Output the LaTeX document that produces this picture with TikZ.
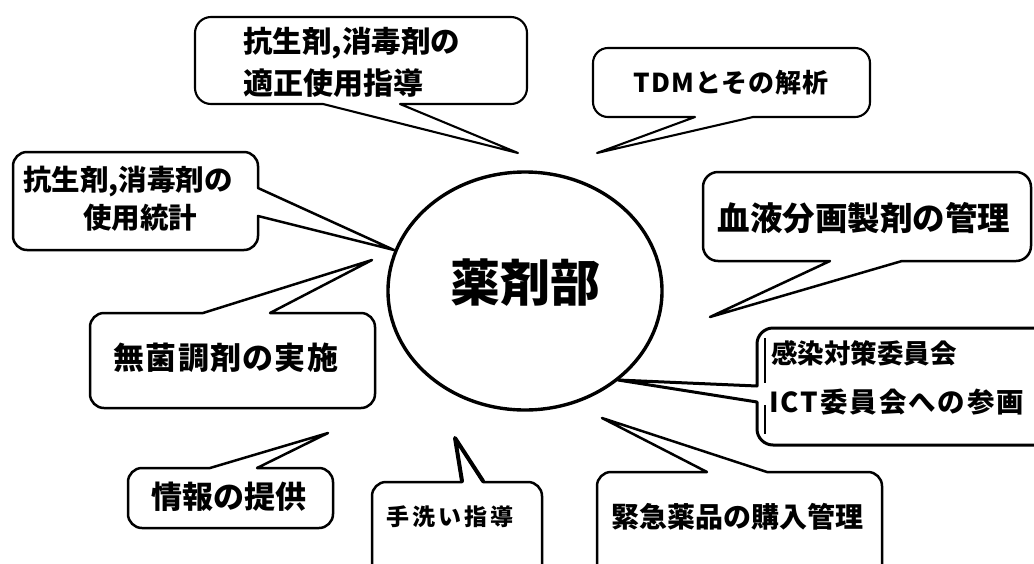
\documentclass[tikz,border=0pt]{standalone}
\usepackage{fontspec}
\usetikzlibrary{shapes.geometric}
\newfontfamily\cjk{Noto Sans CJK JP}
\newcommand\fsz[1]{\fontsize{#1pt}{#1pt}\selectfont}
% L T R B r topfrag rightfrag bottomfrag leftfrag
\newcommand\callout[9]{%
\draw[callout] (#1+#5,#2) #6 -- (#3-#5,#2)
 .. controls (#3-0.45*#5,#2) and (#3,#2+0.45*#5) .. (#3,#2+#5) #7 -- (#3,#4-#5)
 .. controls (#3,#4-0.45*#5) and (#3-0.45*#5,#4) .. (#3-#5,#4) #8 -- (#1+#5,#4)
 .. controls (#1+0.45*#5,#4) and (#1,#4-0.45*#5) .. (#1,#4-#5) #9 -- (#1,#2+#5)
 .. controls (#1,#2+0.45*#5) and (#1+0.45*#5,#2) .. (#1+#5,#2) -- cycle;}
\begin{document}
\begin{tikzpicture}[x=1pt,y=-1pt,
  callout/.style={draw=black, fill=white, line width=2.5pt, line join=round},
  lbl/.style={inner sep=0pt, text=black},
  hubstyle/.style={ellipse, draw=black, line width=3.4pt, minimum width=274pt, minimum height=238pt, inner sep=0pt}]
\fill[white] (0,0) rectangle (1034,563);
\useasboundingbox (0,0) rectangle (1034,563);

% central circle
\node[hubstyle] (hub) at (525,291) {};
\node[lbl, font={\cjk\bfseries\fsz{50}}] (hubtext) at (525,283) {薬剤部};

% tips
\coordinate (tipA) at (518,153);
\coordinate (tipB) at (597,153);
\coordinate (tipC) at (394,250);
\coordinate (tipD) at (710,317);
\coordinate (tipE) at (618,380);
\coordinate (tipF) at (372,260);
\coordinate (tipG) at (328,433);
\coordinate (tipH) at (455,438);
\coordinate (tipI) at (602,418);

% A, B
\begin{scope}[callout/.append style={line width=2.1pt}]
\callout{195}{17}{527}{104}{16}{}{}{-- (400,104) -- (tipA) -- (323,104)}{}
\callout{593}{48}{870}{117}{15}{}{}{-- (753,117) -- (tipB) -- (695,117)}{}
\end{scope}
\node[lbl, anchor=west, font={\cjk\bfseries\fsz{29.5}}] (tA1) at (243,43) {抗生剤,消毒剤の};
\node[lbl, anchor=west, font={\cjk\bfseries\fsz{30}}] (tA2) at (243,83) {適正使用指導};
\node[lbl, font={\cjk\bfseries\fsz{26}\addfontfeatures{LetterSpace=4}}] (tB) at (731,83) {TDMとその解析};

% C
\callout{13}{152}{258}{250}{14}{}{-- (258,188) -- (tipC) -- (258,216)}{}{}
\node[lbl, font={\cjk\bfseries\fsz{28.5}}] (tC1) at (128,182) {抗生剤,消毒剤の};
\node[lbl, font={\cjk\bfseries\fsz{28.5}}] (tC2) at (140,218) {使用統計};

% D
\callout{703}{172}{1031}{261}{15}{}{}{-- (902,261) -- (tipD) -- (830,261)}{}
\node[lbl, font={\cjk\bfseries\fsz{32.5}}] (tD) at (864,218) {血液分画製剤の管理};

% E
\begin{scope}[callout/.append style={line width=3pt}]
\callout{757}{328}{1070}{445}{16}{}{}{}{-- (757,402) -- (tipE) -- (757,386)}
\end{scope}
\draw[line width=2pt] (765,338) -- (765,383) (765,405) -- (765,434);
\node[lbl, anchor=west, font={\cjk\bfseries\fsz{26.5}}] (tE1) at (771,353) {感染対策委員会};
\node[lbl, anchor=west, font={\cjk\bfseries\fsz{27.5}\addfontfeatures{LetterSpace=7}}] (tE2) at (769,402) {ICT委員会への参画};

% F
\callout{90}{313}{375}{408}{14}{-- (203,313) -- (tipF) -- (270,313)}{}{}{}
\node[lbl, font={\cjk\bfseries\fsz{31}\addfontfeatures{LetterSpace=4}}] (tF) at (226,358) {無菌調剤の実施};

% G
\callout{128}{468}{333}{528}{14}{-- (210,468) -- (tipG) -- (257,468)}{}{}{}
\node[lbl, font={\cjk\bfseries\fsz{31}}] (tG) at (229,497) {情報の提供};

% H
\callout{372}{482}{542}{600}{14}{-- (462,482) -- (tipH) -- (483,482)}{}{}{}
\draw[line width=4pt, line join=round, line cap=round] (462,481) -- (tipH) -- (483,481);
\node[lbl, font={\cjk\bfseries\fsz{23}\addfontfeatures{LetterSpace=13}}] (tH) at (450,517) {手洗い指導};

% I
\callout{597}{472}{882}{600}{14}{-- (707,472) -- (tipI) -- (767,472)}{}{}{}
\node[lbl, font={\cjk\bfseries\fsz{28}}] (tI) at (737,517) {緊急薬品の購入管理};
\end{tikzpicture}
\end{document}
